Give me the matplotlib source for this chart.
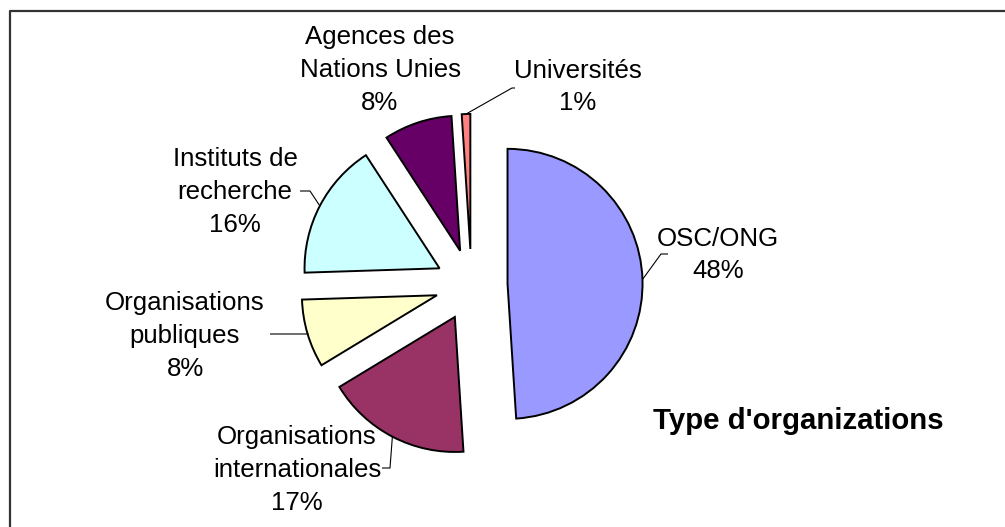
import numpy as np
import matplotlib
matplotlib.use("Agg")
import matplotlib.pyplot as plt
from matplotlib.lines import Line2D

plt.rcParams['font.family'] = ['Liberation Sans', 'DejaVu Sans']

categories = ["OSC/ONG", "Organisations\ninternationales", "Organisations\npubliques",
              "Instituts de\nrecherche", "Agences des\nNations Unies", "Universités"]
values = [48, 17, 8, 16, 8, 1]
colors = ["#9999FF", "#993366", "#FFFFCC", "#CCFFFF", "#660066", "#FF8080"]
title = "Type d'organizations"

W, H = 1005, 527
fig = plt.figure(figsize=(W / 100, H / 100), dpi=100)
ax = fig.add_axes([0, 0, 1, 1])

# pixel -> data mapping (pie center at (472, 285) px, radius 135 px)
R = 135.0
CX, CY = 471.5, 285.0
def p2d(px, py):
    return ((px - CX) / R, (CY - py) / R)

explode = [0.267] * len(values)
wedges, _ = ax.pie(values, colors=colors, startangle=90, counterclock=False,
                   explode=explode, radius=1.0,
                   wedgeprops=dict(edgecolor='black', linewidth=1.4))

ax.set_aspect('auto')
ax.set_xlim((0 - CX) / R, (W - CX) / R)
ax.set_ylim((CY - H) / R, CY / R)
ax.axis('off')

# label text centres (px) and leader elbow points (px)
label_pos = [(718, 255), (297, 470), (185, 336), (235, 192), (380, 70), (578, 87)]
elbows = [[(661, 254), (668, 254)],
          [(390, 468), (382, 468)],
          [(308, 334), (270, 334)],
          [(310, 191), (300, 191)],
          None,
          [(512, 88), (515, 88)]]

for w, cat, v, lp, el in zip(wedges, categories, values, label_pos, elbows):
    txt = f"{cat}\n{v}%"
    x, y = p2d(*lp)
    ax.text(x, y, txt, ha='center', va='center', fontsize=18.6, linespacing=1.47,
            color='black')
    if el is not None:
        ang = np.deg2rad((w.theta1 + w.theta2) / 2)
        cx, cy = w.center
        sx, sy = cx + w.r * np.cos(ang), cy + w.r * np.sin(ang)
        pts = [(sx, sy)] + [p2d(*e) for e in el]
        xs, ys = zip(*pts)
        ax.plot(xs, ys, color='black', lw=0.8, solid_capstyle='butt')

tx, ty = p2d(798, 421)
ax.text(tx, ty, title, ha='center', va='center', fontsize=21.2, fontweight='bold')

# chart border (top and left visible)
bx, by = 10 / W, 1 - 11 / H
fig.add_artist(Line2D([bx, bx, 1.0], [0.0, by, by], transform=fig.transFigure,
                      color='#333333', lw=1.6))

fig.savefig("out.png", dpi=100)
